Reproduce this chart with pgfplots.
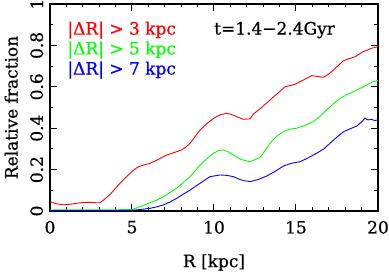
\documentclass[border=0pt]{standalone}
\usepackage{fontspec}
\setmainfont{DejaVu Serif}[FakeBold=0.6]
\usepackage{pgfplots}
\pgfplotsset{compat=1.18}
\begin{document}
\fontsize{17}{20}\selectfont
\begin{tikzpicture}
\path[use as bounding box] (-50pt,-62pt) rectangle (339pt,211pt);
\begin{axis}[
  scale only axis, width=328pt, height=207pt,
  xmin=0, xmax=20, ymin=0, ymax=1,
  xtick={0,5,10,15,20}, ytick={0,0.2,0.4,0.6,0.8,1},
  minor x tick num=4, minor y tick num=1,
  tick align=inside, tick pos=both,
  major tick length=7pt, minor tick length=3.5pt,
  axis line style={line width=1.3pt},
  every tick/.style={line width=1pt, black},
  /pgf/number format/assume math mode=true,
  ticklabel style={font=\fontsize{17}{20}\selectfont},
  yticklabel style={rotate=90, anchor=south, xshift=0pt},
  yticklabel shift=1pt,
  xticklabel shift=4pt,
  xlabel={R [kpc]}, ylabel={Relative fraction},
  label style={font=\fontsize{17}{20}\selectfont},
  xlabel style={yshift=-9pt},
  ylabel style={yshift=1pt},
  clip=false,
]
\addplot[red, line width=0.9pt] coordinates {
(0,0.045)(0.4,0.035)(0.8,0.030)(1.2,0.032)(1.6,0.037)(2.0,0.041)(2.4,0.042)(2.8,0.040)(3.05,0.040)(3.3,0.055)(3.66,0.08)(4.0,0.11)(4.27,0.134)(4.6,0.16)(4.88,0.182)(5.1,0.198)(5.39,0.214)(5.7,0.222)(6.1,0.230)(6.5,0.245)(7.1,0.27)(7.6,0.283)(8.03,0.295)(8.3,0.31)(8.54,0.327)(8.85,0.36)(9.15,0.391)(9.6,0.425)(10.06,0.452)(10.4,0.465)(10.77,0.472)(11.0,0.468)(11.38,0.456)(11.79,0.443)(12.2,0.445)(12.4,0.468)(12.9,0.50)(13.41,0.536)(13.9,0.57)(14.33,0.600)(14.94,0.612)(15.45,0.633)(15.96,0.654)(16.3,0.650)(16.67,0.646)(17.0,0.662)(17.28,0.681)(17.6,0.705)(17.89,0.726)(18.2,0.735)(18.6,0.745)(19.1,0.770)(19.6,0.786)(20,0.794)
};
\addplot[green, line width=0.9pt] coordinates {
(0,0.005)(3,0.006)(4,0.006)(4.8,0.007)(5.08,0.009)(5.3,0.015)(5.49,0.021)(6.1,0.040)(6.5,0.052)(6.91,0.069)(7.3,0.088)(7.72,0.11)(8.1,0.135)(8.54,0.166)(9.15,0.222)(9.6,0.255)(9.96,0.279)(10.3,0.292)(10.57,0.295)(10.9,0.285)(11.18,0.27)(11.69,0.248)(12.2,0.238)(12.8,0.259)(13.1,0.29)(13.41,0.327)(13.8,0.36)(14.23,0.383)(14.6,0.395)(15.04,0.40)(15.6,0.415)(16.06,0.432)(16.5,0.46)(16.87,0.488)(17.3,0.52)(17.68,0.544)(18.1,0.562)(18.5,0.576)(18.9,0.592)(19.31,0.609)(19.7,0.624)(20,0.63)
};
\addplot[blue, line width=0.9pt] coordinates {
(0,0.002)(4,0.002)(5.08,0.004)(5.6,0.008)(6.1,0.013)(6.5,0.02)(6.91,0.029)(7.3,0.043)(7.72,0.061)(8.1,0.08)(8.54,0.101)(9.15,0.134)(9.76,0.166)(10.37,0.174)(10.8,0.172)(11.18,0.166)(11.5,0.155)(11.79,0.147)(12.2,0.142)(12.7,0.152)(13.21,0.169)(13.7,0.19)(14.23,0.217)(14.7,0.23)(15.24,0.238)(15.7,0.255)(16.26,0.279)(16.7,0.30)(17.07,0.327)(17.5,0.357)(17.89,0.383)(18.3,0.397)(18.7,0.41)(19.0,0.43)(19.2,0.448)(19.4,0.44)(19.6,0.443)(19.8,0.437)(20,0.44)
};
\node[anchor=west, text=red, inner sep=0pt] at (axis cs:1.05,0.874) {|ΔR| > 3 kpc};
\node[anchor=west, text=green, inner sep=0pt] at (axis cs:1.05,0.778) {|ΔR| > 5 kpc};
\node[anchor=west, text=blue, inner sep=0pt] at (axis cs:1.05,0.681) {|ΔR| > 7 kpc};
\node[anchor=west, text=black, inner sep=0pt] at (axis cs:10.0,0.874) {t=1.4−2.4Gyr};
\end{axis}
\end{tikzpicture}
\end{document}
